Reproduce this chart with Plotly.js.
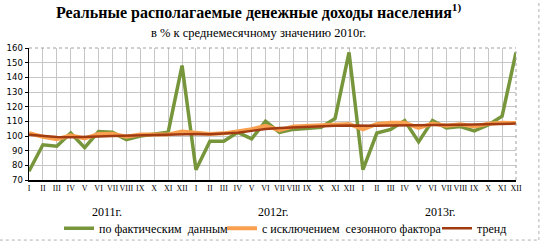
<!DOCTYPE html>
<html>
<head>
<meta charset="utf-8">
<script src="https://cdn.plot.ly/plotly-3.0.1.min.js"></script>
<style>html,body{margin:0;padding:0;background:#fff;}#chart{width:541px;height:242px;}</style>
</head>
<body>
<div id="chart"></div>
<script>
const months = ["I","II","III","IV","V","VI","VII","VIII","IX","X","XI","XII"];
const years = ["2011г.","2012г.","2013г."];
const actual = [76, 94, 93, 102, 92, 103, 102.5, 97.5, 100, 101, 102.5, 148,
                77, 96.5, 96.5, 102.5, 98, 110, 102.5, 104.5, 105, 106, 112, 157,
                77, 102, 104.5, 110.5, 96, 110.5, 105.5, 106.5, 103.5, 107.5, 113.5, 157];
const seasonal = [102, 99.5, 97.8, 100.5, 98.3, 101.3, 101.5, 99.5, 101, 101, 101, 103,
                  102.5, 101.4, 101.8, 103, 104.6, 107, 104, 106.4, 107, 107, 108, 108.2,
                  104.6, 108.2, 109, 109, 105.5, 108.5, 107, 108, 106.5, 108.3, 109, 108.8];
const trend = [100.8, 100, 99.3, 99.2, 99.3, 99.6, 100, 100.2, 100.5, 100.8, 101.2, 101.4,
               101.3, 101.2, 101.5, 102.3, 103.5, 104.8, 105.5, 106, 106.4, 106.8, 107, 107.2,
               107, 107, 107.2, 107.4, 107.6, 107.6, 107.5, 107.7, 107.8, 108, 108.3, 108.5];
const seriesNames = ["по фактическим\u00a0 данным", "с исключением\u00a0 сезонного фактора", "тренд"];
const yTicks = [70, 80, 90, 100, 110, 120, 130, 140, 150, 160];

const x = [];
const ticktext = [];
years.forEach((y, yi) => months.forEach((m, mi) => { x.push(yi * 12 + mi); ticktext.push(m); }));

const serif = "Liberation Serif, Times New Roman, serif";
const traces = [
  {x: x, y: actual, name: seriesNames[0], mode: "lines", line: {color: "#77963B", width: 3.5}, legend: "legend"},
  {x: x, y: seasonal, name: seriesNames[1], mode: "lines", line: {color: "#F9A050", width: 4}, legend: "legend2"},
  {x: x, y: trend, name: seriesNames[2], mode: "lines", line: {color: "#A13C12", width: 2.5}, legend: "legend3"}
];

const annotations = [
  {xref: "paper", yref: "paper", x: 0.471, y: 1.275, xanchor: "center", yanchor: "middle",
   text: "<b>Реальные располагаемые денежные доходы населения<sup>1)</sup></b>", showarrow: false,
   font: {family: serif, size: 16, color: "#000"}},
  {xref: "paper", yref: "paper", x: 0.471, y: 1.115, xanchor: "center", yanchor: "middle",
   text: "в % к среднемесячному значению 2010г.", showarrow: false,
   font: {family: serif, size: 12.5, color: "#000"}}
];
years.forEach((y, yi) => annotations.push({
  xref: "x", yref: "paper", x: yi * 12 + 5.6, y: -0.245, xanchor: "center", yanchor: "middle",
  text: y, showarrow: false, font: {family: serif, size: 12, color: "#000"}
}));

function leg(px) {
  return {orientation: "h", x: (px - 29) / 487, xanchor: "left", y: -0.365, yanchor: "middle",
          font: {family: serif, size: 12, color: "#000"}, itemwidth: 30,
          bgcolor: "rgba(0,0,0,0)", borderwidth: 0};
}

const layout = {
  width: 541, height: 242,
  margin: {l: 29, r: 25, t: 48, b: 62, autoexpand: false},
  paper_bgcolor: "#fff", plot_bgcolor: "#fff",
  showlegend: true,
  legend: leg(59), legend2: leg(222), legend3: leg(437),
  xaxis: {range: [0, 35], tickmode: "array", tickvals: x, ticktext: ticktext,
          tickfont: {family: serif, size: 8, color: "#000"}, tickangle: 0,
          showline: true, linecolor: "#000", linewidth: 1.5,
          showgrid: true, gridcolor: "#C6C6C6", gridwidth: 1,
          ticks: "", zeroline: false, fixedrange: true, automargin: false},
  yaxis: {range: [70, 160], tickmode: "array", tickvals: yTicks,
          tickfont: {family: "DejaVu Sans, Verdana, sans-serif", size: 8.5, color: "#000"},
          showline: true, linecolor: "#000", linewidth: 1.5,
          ticks: "outside", ticklen: 3, tickcolor: "#000",
          showgrid: true, gridcolor: "#C6C6C6", gridwidth: 1, zeroline: false, fixedrange: true, automargin: false},
  annotations: annotations,
  shapes: [
    {type: "line", xref: "paper", yref: "paper", x0: 1, x1: 1, y0: 0, y1: 1, line: {color: "#A0A0A0", width: 1, dash: "dot"}},
    {type: "line", xref: "paper", yref: "paper", x0: 0, x1: 1, y0: 1, y1: 1, line: {color: "#A0A0A0", width: 1, dash: "dot"}},
    {type: "line", xref: "paper", yref: "paper", x0: -0.06, x1: 1.047, y0: -0.455, y1: -0.455, line: {color: "#B0B0B0", width: 1, dash: "dot"}},
    {type: "line", xref: "paper", yref: "paper", x0: 1.047, x1: 1.047, y0: -0.455, y1: 1.36, line: {color: "#B0B0B0", width: 1, dash: "dot"}}
  ]
};

Plotly.newPlot("chart", traces, layout, {displayModeBar: false, staticPlot: true});
</script>
</body>
</html>
